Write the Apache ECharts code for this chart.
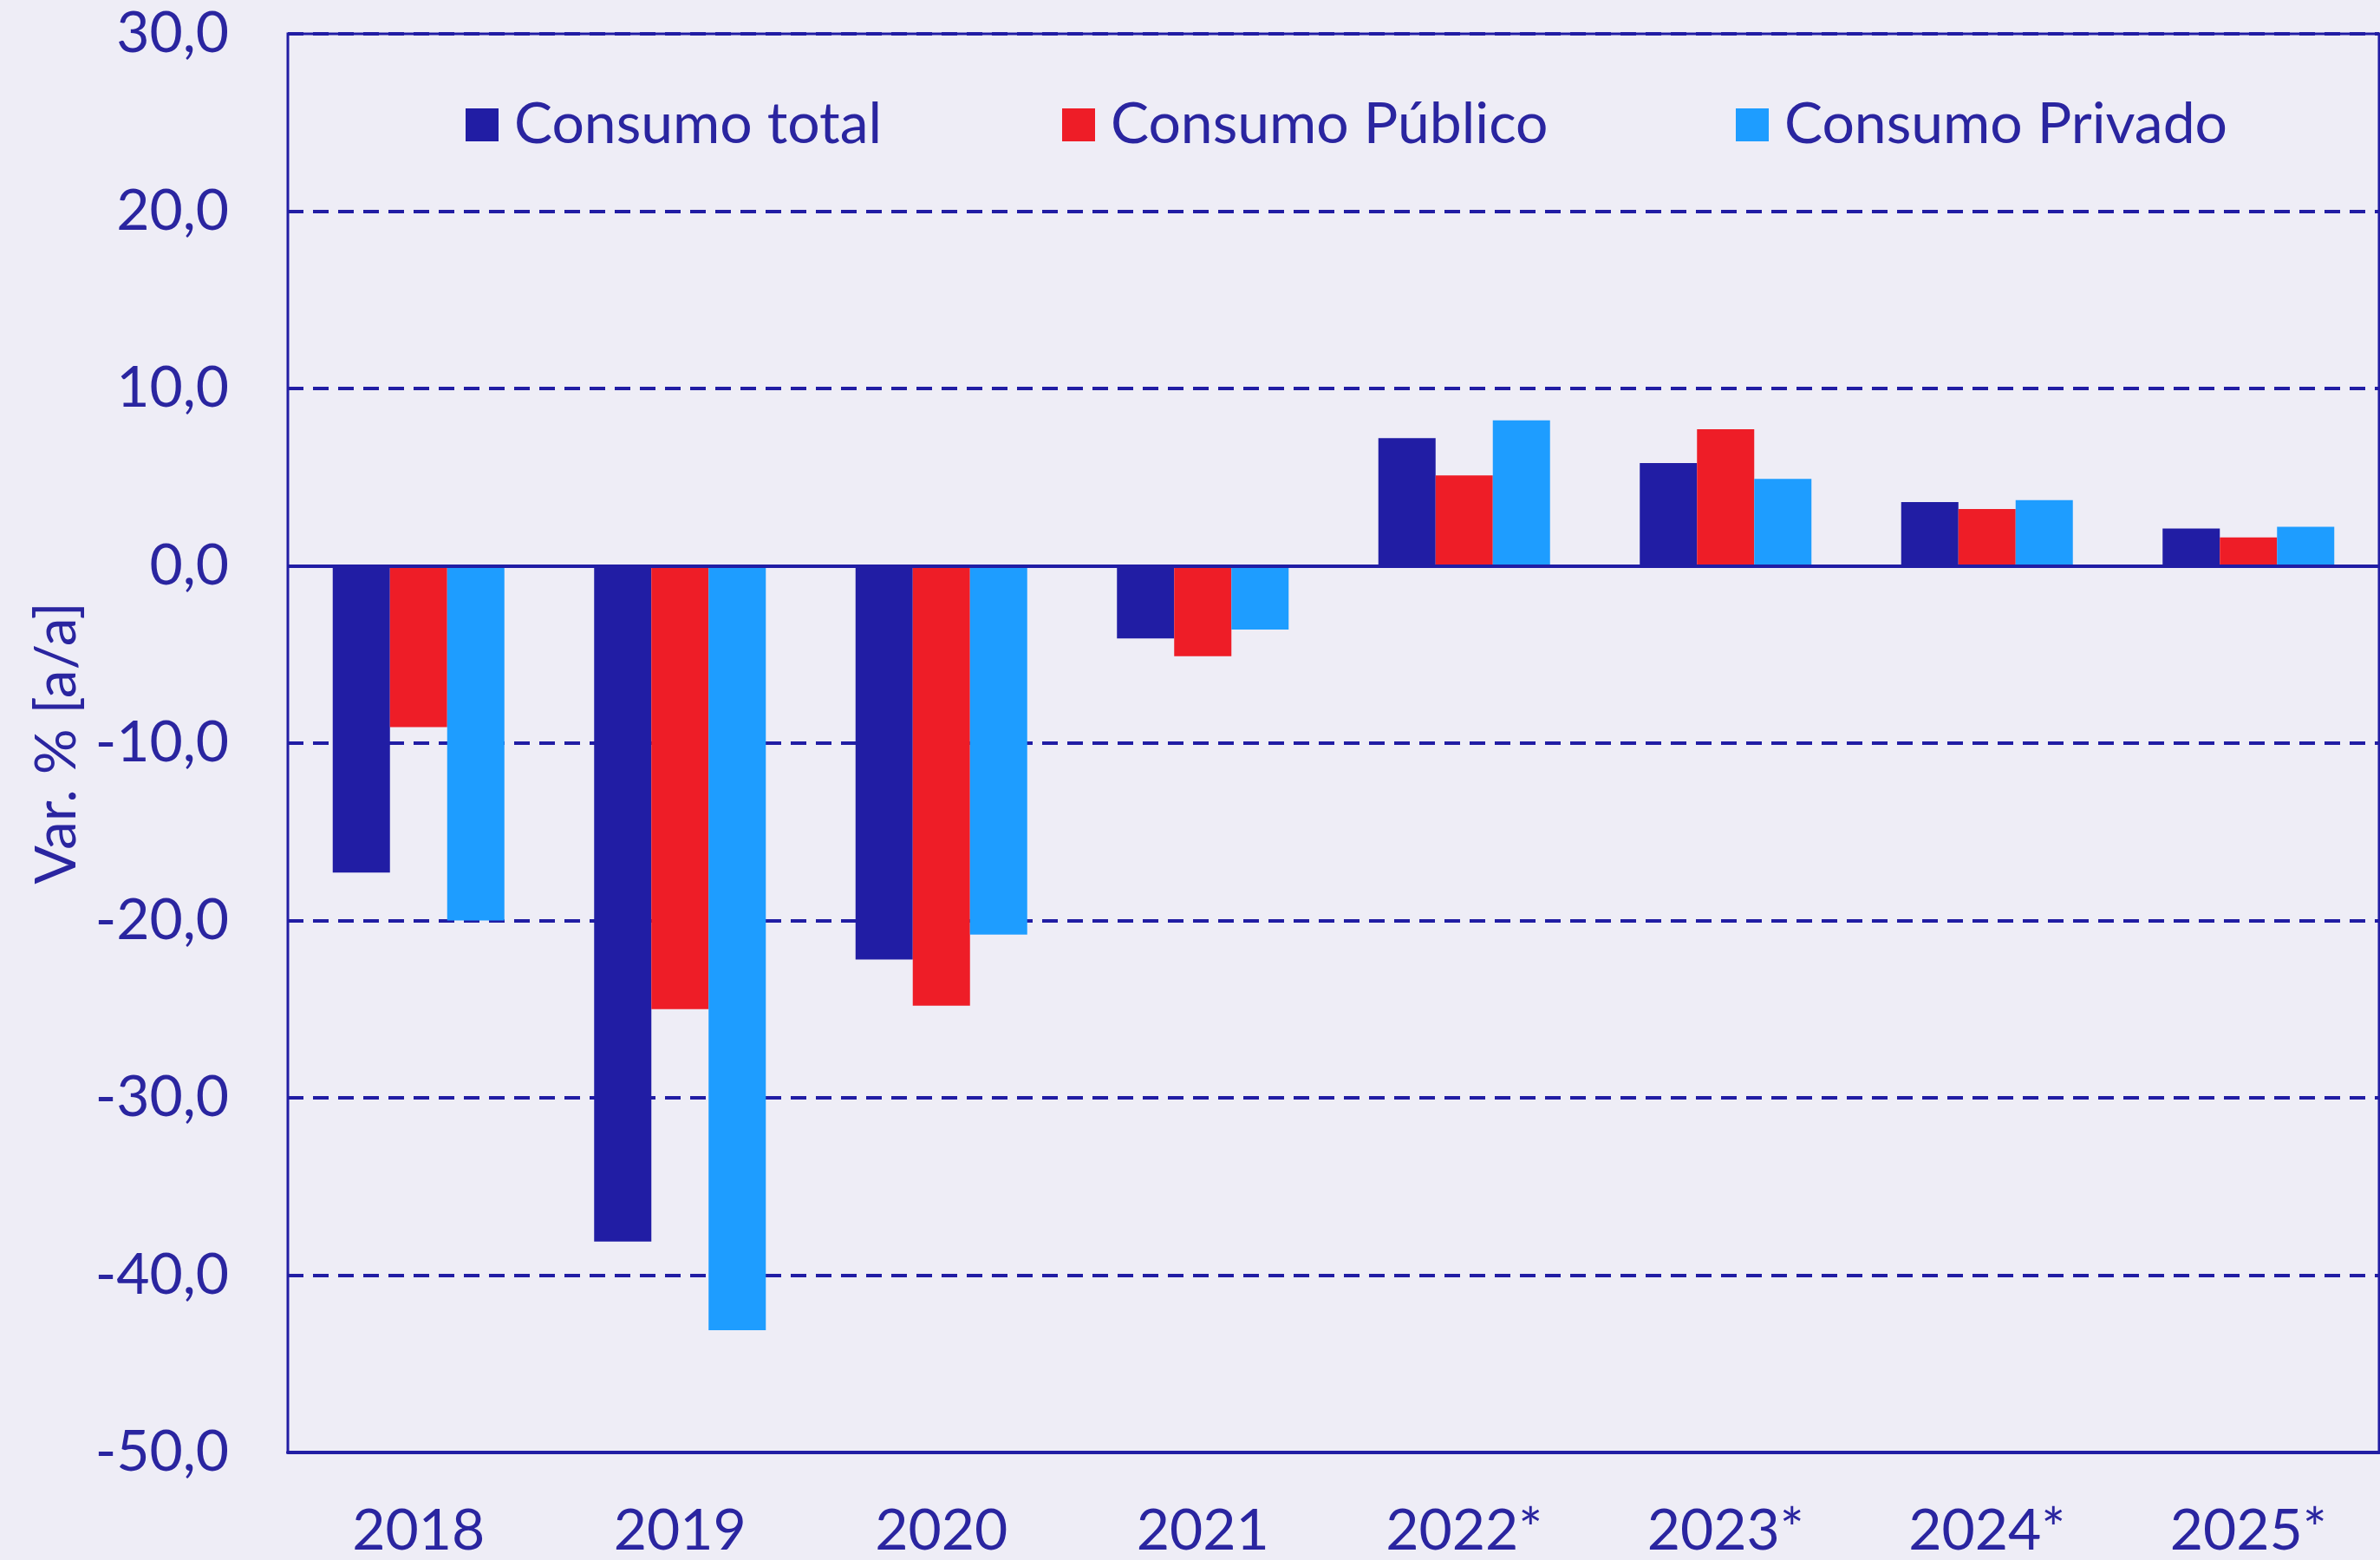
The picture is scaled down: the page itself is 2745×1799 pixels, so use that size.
<!DOCTYPE html>
<html>
<head>
<meta charset="utf-8">
<script src="https://cdn.jsdelivr.net/npm/echarts@6/dist/echarts.min.js"></script>
<style>
  html, body { margin: 0; padding: 0; background: #eeedf6; }
  #chart { width: 2745px; height: 1799px; }
</style>
</head>
<body>
<div id="chart"></div>
<script>
// categorías (años) y series
const years = ["2018", "2019", "2020", "2021", "2022*", "2023*", "2024*", "2025*"];
const consumoTotal = [-17.3, -38.1, -22.2, -4.1, 7.2, 5.8, 3.6, 2.1];
const consumoPublico = [-9.1, -25.0, -24.8, -5.1, 5.1, 7.7, 3.2, 1.6];
const consumoPrivado = [-20.0, -43.1, -20.8, -3.6, 8.2, 4.9, 3.7, 2.2];
const seriesNames = ["Consumo total", "Consumo Público", "Consumo Privado"];

const navy = "#211da4";
const ink = "#2a25a0";
const font = "Lato";

const chart = echarts.init(document.getElementById("chart"));

// una leyenda por serie, para colocar cada una en su sitio
function legendAt(name, left) {
  return {
    data: [name],
    left: left,
    top: 106,
    icon: "rect",
    itemWidth: 38,
    itemHeight: 38,
    textStyle: {
      color: ink,
      fontFamily: font,
      fontSize: 66,
      lineHeight: 66,
      padding: [0, 0, 0, 13],
    },
  };
}

const option = {
  backgroundColor: "#eeedf6",
  animation: false,
  legend: [
    legendAt(seriesNames[0], 532),
    legendAt(seriesNames[1], 1220),
    legendAt(seriesNames[2], 1997),
  ],
  grid: {
    left: 332,
    right: 1,
    top: 39,
    bottom: 124,
    show: true,
    borderColor: navy,
    borderWidth: 3,
  },
  xAxis: {
    type: "category",
    data: years,
    axisLine: { onZero: false, lineStyle: { color: navy, width: 4 } },
    axisTick: { show: false },
    axisLabel: { color: ink, fontFamily: font, fontSize: 66, margin: 58 },
  },
  yAxis: {
    type: "value",
    min: -50,
    max: 30,
    interval: 10,
    name: "Var. % [a/a]",
    nameLocation: "middle",
    nameGap: 232,
    nameTextStyle: { color: ink, fontFamily: font, fontSize: 66 },
    axisLine: { show: false },
    axisTick: { show: false },
    axisLabel: {
      color: ink,
      fontFamily: font,
      fontSize: 66,
      margin: 68,
      formatter: (v) => v.toFixed(1).replace(".", ","),
    },
    splitLine: {
      lineStyle: { color: navy, width: 4, type: [18, 11] },
    },
  },
  series: [
    {
      name: seriesNames[0],
      type: "bar",
      data: consumoTotal,
      barWidth: 66,
      barGap: "0%",
      itemStyle: { color: "#211da4" },
      markLine: {
        silent: true,
        symbol: "none",
        label: { show: false },
        z: 10,
        lineStyle: { color: navy, width: 4, type: "solid" },
        data: [{ yAxis: 0 }],
      },
    },
    {
      name: seriesNames[1],
      type: "bar",
      data: consumoPublico,
      barWidth: 66,
      barGap: "0%",
      itemStyle: { color: "#ee1d27" },
    },
    {
      name: seriesNames[2],
      type: "bar",
      data: consumoPrivado,
      barWidth: 66,
      barGap: "0%",
      itemStyle: { color: "#1e9dff" },
    },
  ],
};

chart.setOption(option);
window.addEventListener("resize", () => chart.resize());
</script>
</body>
</html>
